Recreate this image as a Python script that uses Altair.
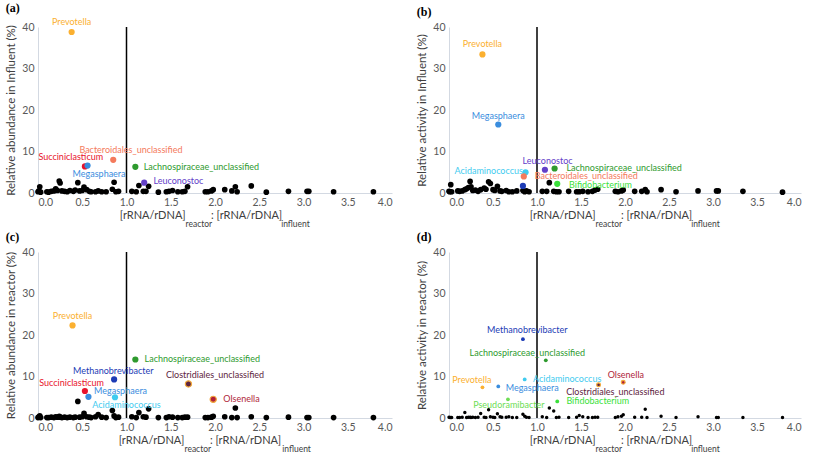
import altair as alt
import pandas as pd

FONT = "Lato"

# ratio [rRNA/rDNA]reactor : [rRNA/rDNA]influent of the unlabelled genera
xs = [0.00, 0.01, 0.02, 0.03, 0.10, 0.12, 0.15, 0.18, 0.20, 0.22, 0.24, 0.25, 0.27, 0.30, 0.33,
      0.36, 0.40, 0.42, 0.45, 0.47, 0.50, 0.52, 0.55, 0.58, 0.60, 0.65, 0.68, 0.72, 0.77, 0.84,
      0.86, 0.88, 0.91, 1.06, 1.11, 1.14, 1.19, 1.22, 1.25, 1.36, 1.45, 1.48, 1.52, 1.58, 1.63,
      1.66, 1.69, 1.89, 1.92, 1.96, 1.98, 2.11, 2.19, 2.23, 2.25, 2.41, 2.58, 2.83, 3.04, 3.06,
      3.34, 3.79]

ya = [0.3, 0.5, 1.5, 0.2, 0.3, 0.2, 0.4, 0.5, 1.0, 0.6, 2.9, 2.4, 0.5, 0.4, 0.3,
      0.6, 0.4, 0.7, 2.5, 0.5, 0.6, 1.4, 0.8, 0.4, 0.3, 0.3, 0.5, 0.3, 0.3, 0.9,
      2.6, 0.3, 0.4, 0.4, 0.3, 1.8, 0.4, 0.4, 1.6, 0.2, 0.3, 0.4, 0.6, 0.3, 0.3,
      0.4, 1.5, 0.3, 0.3, 0.5, 0.8, 0.8, 0.5, 1.5, 0.3, 1.7, 0.2, 0.4, 0.4, 0.4,
      0.3, 0.3]
yb = [0.4, 0.3, 2.0, 0.3, 0.5, 0.4, 0.5, 0.8, 1.0, 1.3, 2.8, 1.5, 0.6, 0.7, 0.4,
      0.8, 1.2, 0.9, 2.7, 2.3, 0.8, 0.6, 1.6, 0.5, 0.4, 0.6, 0.3, 0.3, 0.5, 0.6,
      0.3, 0.5, 0.3, 0.4, 0.4, 2.5, 0.4, 0.3, 0.3, 0.4, 0.3, 0.3, 0.4, 0.3, 0.4,
      0.7, 0.9, 0.4, 0.3, 0.5, 0.7, 0.4, 0.4, 0.8, 0.3, 0.8, 0.3, 0.5, 0.5, 0.5,
      0.4, 0.2]
yc = [0.1, 0.3, 0.5, 0.1, 0.1, 0.1, 0.2, 0.1, 0.3, 0.2, 0.4, 0.2, 0.1, 0.2, 0.1,
      0.2, 0.1, 0.2, 4.0, 0.2, 0.3, 1.1, 0.3, 0.2, 0.1, 0.3, 0.8, 0.2, 0.1, 1.8,
      0.5, 0.1, 0.2, 0.3, 0.1, 1.3, 0.3, 0.2, 2.2, 0.1, 0.1, 0.3, 0.2, 0.1, 0.1,
      0.2, 0.2, 0.1, 0.1, 0.2, 0.4, 0.3, 0.1, 2.4, 0.1, 0.3, 0.1, 0.2, 0.1, 0.1,
      0.1, 0.1]
yd = [0.2, 0.1, 0.1, 0.1, 0.1, 0.1, 0.2, 1.3, 0.1, 0.2, 0.2, 0.1, 0.2, 0.1, 0.2,
      1.1, 0.2, 0.1, 2.0, 0.3, 0.2, 0.1, 1.0, 0.3, 0.2, 0.2, 0.3, 0.1, 0.1, 0.9,
      0.4, 0.2, 0.1, 0.3, 0.1, 2.4, 1.7, 0.1, 0.2, 0.1, 0.2, 0.6, 0.3, 0.1, 0.1,
      0.2, 0.2, 0.1, 0.3, 0.4, 0.8, 0.2, 0.2, 2.1, 0.1, 0.4, 0.1, 0.3, 0.1, 0.1,
      0.1, 0.1]

genera = ["Prevotella", "Bacteroidales_unclassified", "Succiniclasticum", "Megasphaera",
          "Lachnospiraceae_unclassified", "Leuconostoc", "Acidaminococcus", "Bifidobacterium",
          "Methanobrevibacter", "Clostridiales_unclassified", "Olsenella", "Pseudoramibacter"]
genus_colors = ["#FBB030", "#F47A5C", "#E8132C", "#3A8DDE",
                "#2E9A2E", "#6240C8", "#3FCBEF", "#3ADF3A",
                "#1C3BB5", "#5E2440", "#B01F3A", "#6EDD55"]

# labelled genera: name, x, y, label x, label y, label alignment
a_names = ["Prevotella", "Bacteroidales_unclassified", "Succiniclasticum", "Megasphaera",
           "Lachnospiraceae_unclassified", "Leuconostoc"]
a_x = [0.38, 0.85, 0.53, 0.56, 1.10, 1.20]
a_y = [38.8, 8.0, 6.4, 6.6, 6.3, 2.5]
a_lx = [0.38, 1.05, 0.37, 0.69, 1.16, 1.27]
a_ly = [41.2, 10.3, 8.6, 4.5, 6.3, 2.9]
a_al = ["center", "center", "center", "center", "left", "left"]

b_names = ["Prevotella", "Megasphaera", "Leuconostoc", "Lachnospiraceae_unclassified",
           "Acidaminococcus", "Bacteroidales_unclassified", "Bifidobacterium", "Methanobrevibacter"]
b_x = [0.38, 0.56, 1.09, 1.20, 0.87, 0.85, 1.23, 0.84]
b_y = [33.4, 16.5, 5.6, 5.9, 5.0, 4.0, 2.2, 1.7]
b_lx = [0.38, 0.56, 1.12, 1.30, 0.84, 0.94, 1.33, 0.84]
b_ly = [35.8, 18.5, 7.8, 6.0, 5.4, 4.1, 1.9, 1.7]
b_al = ["center", "center", "center", "left", "right", "left", "left", "none"]

c_names = ["Prevotella", "Lachnospiraceae_unclassified", "Methanobrevibacter",
           "Clostridiales_unclassified", "Succiniclasticum", "Megasphaera",
           "Acidaminococcus", "Olsenella"]
c_x = [0.39, 1.10, 0.86, 1.70, 0.53, 0.57, 0.87, 1.98]
c_y = [22.3, 14.1, 9.3, 8.2, 6.5, 5.1, 5.0, 4.5]
c_lx = [0.39, 1.17, 0.85, 2.00, 0.38, 0.60, 1.00, 2.06]
c_ly = [24.5, 14.1, 11.3, 10.4, 8.5, 6.5, 3.2, 4.6]
c_al = ["center", "left", "center", "center", "center", "left", "center", "left"]

d_names = ["Methanobrevibacter", "Lachnospiraceae_unclassified", "Prevotella", "Megasphaera",
           "Acidaminococcus", "Clostridiales_unclassified", "Olsenella", "Pseudoramibacter",
           "Bifidobacterium"]
d_x = [0.84, 1.10, 0.38, 0.56, 0.86, 1.70, 1.98, 0.67, 1.23]
d_y = [19.0, 13.9, 7.4, 7.6, 9.3, 8.0, 8.6, 4.5, 4.0]
d_lx = [0.89, 0.89, 0.26, 0.61, 0.92, 1.89, 2.01, 0.68, 1.30]
d_ly = [21.2, 15.6, 9.2, 7.3, 9.5, 6.3, 10.4, 3.2, 4.0]
d_al = ["center", "center", "center", "left", "left", "center", "center", "center", "left"]

x_ticks = [0, 0.5, 1, 1.5, 2, 2.5, 3, 3.5, 4]
y_ticks = [0, 5, 10, 15, 20, 25, 30, 35, 40]

color_scale = alt.Scale(domain=genera, range=genus_colors)

MAIN_FS = 11
SUB_FS = 8.5


def panel(tag, ytitle, ys, names, hx, hy, lx, ly, al, sep, w, h, dot):
    xsc = alt.Scale(domain=[0, 4], nice=False)
    ysc = alt.Scale(domain=[0, 40], nice=False)
    base = pd.DataFrame({"x": xs, "y": ys})
    hl = pd.DataFrame({"genus": names, "x": hx, "y": hy, "lx": lx, "ly": ly, "al": al})

    pts = alt.Chart(base).mark_circle(size=dot, opacity=1, color="black").encode(
        x=alt.X("x:Q", scale=xsc, axis=alt.Axis(values=x_ticks, format=".1f", title=None)),
        y=alt.Y("y:Q", scale=ysc, axis=alt.Axis(values=y_ticks, title=ytitle)),
    )
    rule = alt.Chart(pd.DataFrame({"v": [1.0], "y0": [0], "y1": [40]})).mark_rule(
        color="black", strokeWidth=1.5).encode(x="v:Q", y="y0:Q", y2="y1:Q")
    hpts = alt.Chart(hl).mark_circle(size=dot * 1.2, opacity=1).encode(
        x="x:Q", y="y:Q",
        color=alt.Color("genus:N", scale=color_scale, legend=None),
        stroke=alt.condition(
            "indexof(['Clostridiales_unclassified','Olsenella'], datum.genus) >= 0",
            alt.value("#F2A93B"), alt.value("transparent")),
        strokeWidth=alt.value(1.2),
    )
    labs = []
    for a in ["left", "center", "right"]:
        labs.append(
            alt.Chart(hl).transform_filter(alt.datum.al == a).mark_text(
                align=a, baseline="middle", font=FONT, fontSize=9, dx=3 if a == "left" else 0
            ).encode(
                x="lx:Q", y="ly:Q", text="genus:N",
                color=alt.Color("genus:N", scale=color_scale, legend=None),
            )
        )
    # x-axis title with subscripts, pieces laid out side by side
    w1 = 5.89 * MAIN_FS
    ws1 = 3.0 * SUB_FS
    w2 = (5.89 + 0.25 + 0.19 * sep.count(" ")) * MAIN_FS + 0.5
    ws2 = 3.31 * SUB_FS
    left = w / 2 - (w1 + ws1 + w2 + ws2) / 2
    a0 = left + w1 + ws1
    one = pd.DataFrame({"t": [0]})
    parts = [
        ("[rRNA/rDNA]", a0 - ws1, h + 26, MAIN_FS, "right"),
        ("reactor", a0 - ws1, h + 34, SUB_FS, "left"),
        (sep + "[rRNA/rDNA]", a0, h + 26, MAIN_FS, "left"),
        ("influent", a0 + w2, h + 34, SUB_FS, "left"),
    ]
    tl = []
    for txt, px, py, fs, a in parts:
        tl.append(alt.Chart(one).mark_text(
            text=txt, align=a, baseline="alphabetic", font=FONT, fontSize=fs, color="#404040"
        ).encode(x=alt.value(px), y=alt.value(py)))
    return alt.layer(pts, rule, hpts, *labs, *tl).properties(
        width=w, height=h,
        title=alt.TitleParams(tag, anchor="start", frame="bounds", font="Liberation Serif",
                              fontSize=12, fontWeight="bold", offset=3, color="black"),
    )


pa = panel("(a)", "Relative abundance in Influent (%)", ya, a_names, a_x, a_y, a_lx, a_ly, a_al,
           ": ", 354, 166, 32)
pb = panel("(b)", "Relative activity in Influent (%)", yb, b_names, b_x, b_y, b_lx, b_ly, b_al,
           ": ", 352, 166, 32)
pc = panel("(c)", "Relative abundance in reactor (%)", yc, c_names, c_x, c_y, c_lx, c_ly, c_al,
           " : ", 354, 166, 32)
pd_ = panel("(d)", "Relative activity in reactor (%)", yd, d_names, d_x, d_y, d_lx, d_ly, d_al,
            ": ", 352, 166, 12)

chart = alt.concat(pa, pb, pc, pd_, columns=2, spacing={"row": 59, "column": 57},
                   bounds="flush").properties(
    padding={"left": 5, "top": 2, "right": 5, "bottom": 1}
).configure_view(stroke=None).configure_axis(
    labelFont=FONT, titleFont=FONT, labelFontSize=10.5, labelColor="#595959",
    titleColor="#404040", titleFontWeight="normal", titleFontSize=11.5,
    domainColor="#D3D9E2", domainWidth=1, ticks=False, grid=False, labelPadding=4,
    titlePadding=5,
)

chart.save("out.html", embed_options={"renderer": "svg", "actions": False})
